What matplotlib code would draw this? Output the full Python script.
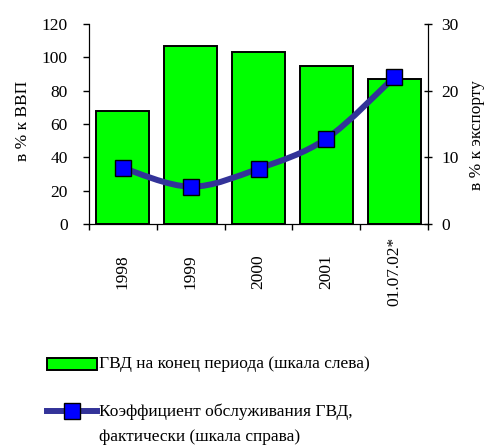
import numpy as np
import matplotlib
matplotlib.use("Agg")
import matplotlib.pyplot as plt
from matplotlib.path import Path
from matplotlib.patches import PathPatch, Rectangle
from matplotlib.lines import Line2D

plt.rcParams["font.family"] = ["Liberation Serif", "DejaVu Serif"]
plt.rcParams["font.size"] = 12.5

# Внешний долг: ГВД в % к ВВП и коэффициент обслуживания в % к экспорту
periods = ["1998", "1999", "2000", "2001", "01.07.02*"]
debt_gdp = [68, 107, 103, 95, 87]
service_ratio = [8.4, 5.6, 8.3, 12.8, 22.0]

bar_color = "#00FF00"
line_color = "#333399"
marker_color = "#0000FF"

W, H = 484, 445


def fx(x):
    return x / W


def fy(y):
    return 1 - y / H


def smooth_path(xs, ys):
    # Сглаженная линия: кривые Безье через точки ряда
    pts = np.column_stack([xs, ys]).astype(float)
    n = len(pts)
    verts = [pts[0]]
    codes = [Path.MOVETO]
    for i in range(n - 1):
        p0 = pts[max(i - 1, 0)]
        p1 = pts[i]
        p2 = pts[i + 1]
        p3 = pts[min(i + 2, n - 1)]
        verts += [p1 + (p2 - p0) / 6, p2 - (p3 - p1) / 6, p2]
        codes += [Path.CURVE4] * 3
    return Path(verts, codes)


fig = plt.figure(figsize=(4.84, 4.45), dpi=100)
ax = fig.add_axes([fx(89), fy(224), fx(428) - fx(89), fy(24) - fy(224)])
x = np.arange(len(periods))

ax.bar(x, debt_gdp, width=0.78, color=bar_color, edgecolor="black", linewidth=1.4)
ax.set_xlim(-0.5, len(periods) - 0.5)
ax.set_ylim(0, 120)
ax.set_yticks(range(0, 121, 20))
ax.tick_params(axis="y", direction="out", length=4.3, width=1, pad=11)
ax.set_xticks(x)
ax.set_xticklabels(periods)
ax.set_xticks(np.arange(-0.5, len(periods)), minor=True)
ax.tick_params(axis="x", which="major", length=0, pad=34)
ax.tick_params(axis="x", which="minor", direction="out", length=4.5, width=1)
plt.setp(ax.get_xticklabels(), rotation=90, va="center", ha="center")
ax.spines["top"].set_visible(False)

ax2 = ax.twinx()
ax2.set_ylim(0, 30)
ax2.set_yticks([0, 10, 20, 30])
ax2.tick_params(axis="y", direction="inout", length=6, width=1, pad=6.5)
ax2.spines["top"].set_visible(False)
ax2.add_patch(PathPatch(smooth_path(x, service_ratio), facecolor="none",
                        edgecolor=line_color, linewidth=4.3, capstyle="round"))
ax2.plot(x, service_ratio, ls="none", marker="s", markersize=11,
         markerfacecolor=marker_color, markeredgecolor="black", markeredgewidth=1)

# Подписи осей
fig.text(fx(23), fy(121), "в % к ВВП", rotation=90, ha="center", va="center")
fig.text(fx(477), fy(135), "в % к экспорту", rotation=90, ha="center", va="center")

# Легенда
fig.add_artist(Rectangle((fx(47), fy(370)), fx(97) - fx(47), fy(358) - fy(370),
                         transform=fig.transFigure, facecolor=bar_color,
                         edgecolor="black", linewidth=1.4))
fig.text(fx(99), fy(364), "ГВД на конец периода (шкала слева)", va="center")
fig.add_artist(Line2D([fx(47), fx(97)], [fy(411), fy(411)], transform=fig.transFigure,
                      color=line_color, linewidth=4.3))
fig.add_artist(Line2D([fx(72)], [fy(411)], transform=fig.transFigure, ls="none",
                      marker="s", markersize=11, markerfacecolor=marker_color,
                      markeredgecolor="black", markeredgewidth=1))
fig.text(fx(99), fy(412), "Коэффициент обслуживания ГВД,", va="center")
fig.text(fx(99), fy(437), "фактически (шкала справа)", va="center")

fig.savefig("out.png", dpi=100)
plt.close(fig)
